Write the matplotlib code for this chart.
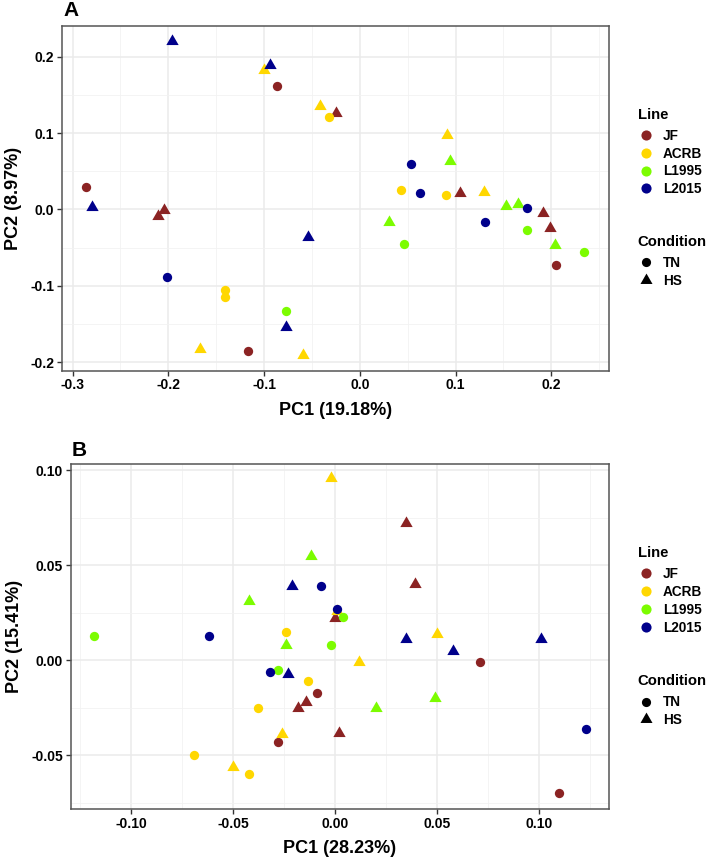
import matplotlib
matplotlib.use('Agg')
import matplotlib.pyplot as plt
from matplotlib.lines import Line2D
from matplotlib.ticker import MultipleLocator, FormatStrFormatter

plt.rcParams['font.family'] = ['Liberation Sans', 'DejaVu Sans']
plt.rcParams['font.weight'] = 'bold'

# ---------------- data ----------------
line_names = ['JF', 'ACRB', 'L1995', 'L2015']
line_colors = ['#8B2323', '#FFD700', '#7CFC00', '#00008B']
condition_names = ['TN', 'HS']

# Panel A (PC1 19.18%, PC2 8.97%)
a_line = (['JF'] * 10 + ['ACRB'] * 11 + ['L1995'] * 9 + ['L2015'] * 10)
a_cond = (['TN'] * 4 + ['HS'] * 6 +
          ['TN'] * 5 + ['HS'] * 6 +
          ['TN'] * 4 + ['HS'] * 5 +
          ['TN'] * 5 + ['HS'] * 5)
a_pc1 = [-0.087, -0.286, -0.117, 0.205,
         -0.025, -0.211, -0.205, 0.105, 0.191, 0.199,
         -0.032, -0.141, -0.141, 0.043, 0.090,
         -0.100, -0.042, -0.167, -0.059, 0.091, 0.130,
         -0.077, 0.046, 0.175, 0.234,
         0.094, 0.030, 0.153, 0.165, 0.204,
         -0.201, 0.053, 0.063, 0.175, 0.131,
         -0.196, -0.094, -0.280, -0.054, -0.077]
a_pc2 = [0.162, 0.030, -0.185, -0.073,
         0.126, -0.008, -0.001, 0.022, -0.005, -0.024,
         0.121, -0.105, -0.115, 0.025, 0.019,
         0.183, 0.136, -0.182, -0.190, 0.098, 0.023,
         -0.133, -0.045, -0.027, -0.056,
         0.063, -0.017, 0.005, 0.007, -0.046,
         -0.089, 0.059, 0.022, 0.002, -0.017,
         0.220, 0.189, 0.003, -0.036, -0.154]

# Panel B (PC1 28.23%, PC2 15.41%)
b_line = a_line
b_cond = a_cond
b_pc1 = [-0.009, -0.028, 0.071, 0.110,
         0.000, -0.014, -0.018, 0.002, 0.035, 0.039,
         -0.024, -0.013, -0.038, -0.069, -0.042,
         -0.002, 0.001, 0.012, -0.026, -0.050, 0.050,
         0.004, -0.118, -0.002, -0.028,
         -0.012, -0.042, -0.024, 0.049, 0.020,
         -0.007, 0.001, -0.062, -0.032, 0.123,
         -0.021, -0.023, 0.035, 0.058, 0.101]
b_pc2 = [-0.017, -0.043, -0.001, -0.070,
         0.022, -0.022, -0.025, -0.038, 0.072, 0.040,
         0.015, -0.011, -0.025, -0.050, -0.060,
         0.096, 0.026, -0.001, -0.039, -0.056, 0.014,
         0.023, 0.013, 0.008, -0.005,
         0.055, 0.031, 0.008, -0.020, -0.025,
         0.039, 0.027, 0.013, -0.006, -0.036,
         0.039, -0.007, 0.011, 0.005, 0.011]

a_xlabel, a_ylabel = 'PC1 (19.18%)', 'PC2 (8.97%)'
b_xlabel, b_ylabel = 'PC1 (28.23%)', 'PC2 (15.41%)'

# ---------------- style ----------------
TRI = [(0, 1), (-0.8660254, -0.5), (0.8660254, -0.5), (0, 1)]
markers = {'TN': 'o', 'HS': TRI}
sizes = {'TN': 45, 'HS': 105}
color_of = dict(zip(line_names, line_colors))

fig = plt.figure(figsize=(7.08, 8.59), dpi=100)
W, H = 708, 859


def px_axes(l, t, r, b):
    return fig.add_axes([l / W, 1 - b / H, (r - l) / W, (b - t) / H])


axA = px_axes(62, 25.7, 609.3, 370.7)
axB = px_axes(70.5, 464, 609.3, 809)


def draw(ax, lines_, conds, xs, ys):
    for ln, cd, x, y in zip(lines_, conds, xs, ys):
        ax.scatter([x], [y], marker=markers[cd], s=sizes[cd],
                   color=color_of[ln], linewidths=0, zorder=3)


def style(ax, major_x, major_y, xlim, ylim, xfmt, yfmt, xlabel, ylabel):
    ax.set_xlim(*xlim)
    ax.set_ylim(*ylim)
    ax.xaxis.set_major_locator(MultipleLocator(major_x))
    ax.xaxis.set_minor_locator(MultipleLocator(major_x / 2))
    ax.yaxis.set_major_locator(MultipleLocator(major_y))
    ax.yaxis.set_minor_locator(MultipleLocator(major_y / 2))
    ax.xaxis.set_major_formatter(FormatStrFormatter(xfmt))
    ax.yaxis.set_major_formatter(FormatStrFormatter(yfmt))
    ax.grid(which='major', color='#EBEBEB', lw=1.1, zorder=0)
    ax.grid(which='minor', color='#F2F2F2', lw=0.6, zorder=0)
    ax.set_axisbelow(True)
    for sp in ax.spines.values():
        sp.set_color('#555555')
        sp.set_linewidth(1.1)
    ax.tick_params(which='major', length=3.5, width=1, color='#333333',
                   labelsize=10, labelcolor='black', pad=2)
    ax.tick_params(which='minor', length=0)
    for lab in ax.get_xticklabels() + ax.get_yticklabels():
        lab.set_fontweight('bold')
    ax.set_xlabel(xlabel, fontsize=13, fontweight='bold', labelpad=7)
    ax.set_ylabel(ylabel, fontsize=13, fontweight='bold', labelpad=6)


draw(axA, a_line, a_cond, a_pc1, a_pc2)
draw(axB, b_line, b_cond, b_pc1, b_pc2)

style(axA, 0.1, 0.1, (-0.311, 0.2605), (-0.211, 0.2405), '%.1f', '%.1f',
      a_xlabel, a_ylabel)
style(axB, 0.05, 0.05, (-0.1297, 0.1345), (-0.0782, 0.1032), '%.2f', '%.2f',
      b_xlabel, b_ylabel)

fig.text(71 / W, 1 - 16.5 / H, 'A', fontsize=15, fontweight='bold',
         ha='center', va='baseline')
fig.text(79 / W, 1 - 455.5 / H, 'B', fontsize=15, fontweight='bold',
         ha='center', va='baseline')


def add_legends(ax, title_line_y, line_center_y, title_cond_y, cond_center_y):
    line_handles = [Line2D([], [], marker='o', ls='', color=c, markersize=7.3,
                           markeredgewidth=0) for c in line_colors]
    cond_handles = [Line2D([], [], marker=markers[c], ls='', color='black',
                           markersize=6.6 if c == 'TN' else 10,
                           markeredgewidth=0) for c in condition_names]
    common = dict(loc='center left', bbox_transform=fig.transFigure,
                  frameon=False, prop={'size': 9.8, 'weight': 'bold'},
                  handlelength=1.0, handletextpad=0.73,
                  labelspacing=0.28, borderpad=0, borderaxespad=0)
    l1 = ax.legend(line_handles, line_names,
                   bbox_to_anchor=(639.2 / W, 1 - line_center_y / H), **common)
    ax.add_artist(l1)
    ax.legend(cond_handles, condition_names,
              bbox_to_anchor=(639.2 / W, 1 - cond_center_y / H), **common)
    fig.text(637.7 / W, 1 - (title_line_y + 5.3) / H, 'Line',
             fontsize=10.7, fontweight='bold', ha='left', va='baseline')
    fig.text(637.7 / W, 1 - (title_cond_y + 5.3) / H, 'Condition',
             fontsize=10.7, fontweight='bold', ha='left', va='baseline')


add_legends(axA, 113.4, 162.5, 241, 272)
add_legends(axB, 551.7, 600.8, 679.3, 711.2)

fig.savefig('out.png', dpi=100)
